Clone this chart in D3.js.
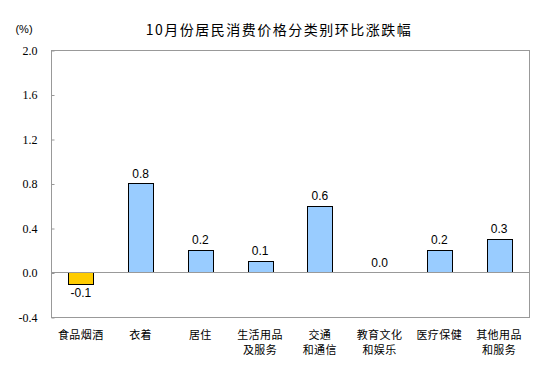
<!DOCTYPE html>
<html>
<head>
<meta charset="utf-8">
<script src="https://cdn.jsdelivr.net/npm/d3@7"></script>
<style>
body { margin:0; background:#fff; }
svg { display:block; }
</style>
</head>
<body>
<script>
// categories (two-line labels) and month-on-month change, %
var categories = [
  ["食品烟酒"], ["衣着"], ["居住"], ["生活用品", "及服务"],
  ["交通", "和通信"], ["教育文化", "和娱乐"], ["医疗保健"], ["其他用品", "和服务"]
];
var values = [-0.1, 0.8, 0.2, 0.1, 0.6, 0.0, 0.2, 0.3];
var yTicks = [-0.4, 0.0, 0.4, 0.8, 1.2, 1.6, 2.0];

var width = 552, height = 368;
// plot area (note: "top" is reserved on window)
var pLeft = 51, pRight = 529, pTop = 50, pBottom = 317;

// one decimal, plain hyphen for negatives like the original
var fmt = function(d) { return d3.format(".1f")(d).replace("\u2212", "-"); };

var svg = d3.select("body").append("svg")
  .attr("width", width)
  .attr("height", height);

var x = d3.scaleBand()
  .domain(d3.range(values.length))
  .range([pLeft, pRight])
  .paddingInner(0.58)
  .paddingOuter(0.29);

var y = d3.scaleLinear()
  .domain([-0.4, 2.0])
  .range([pBottom, pTop]);

// title
svg.append("text")
  .attr("x", 279)
  .attr("y", 35)
  .attr("text-anchor", "middle")
  .attr("font-family", "'Noto Sans CJK SC', sans-serif")
  .attr("font-size", "14px")
  .attr("letter-spacing", "1.5px")
  .attr("fill", "#000")
  .text("10月份居民消费价格分类别环比涨跌幅");

svg.append("text")
  .attr("x", 24)
  .attr("y", 33)
  .attr("text-anchor", "middle")
  .attr("font-family", "'Liberation Sans', Arial, sans-serif")
  .attr("font-size", "11px")
  .text("(%)");

// plot frame
svg.append("rect")
  .attr("x", pLeft + 0.5)
  .attr("y", pTop + 0.5)
  .attr("width", pRight - pLeft)
  .attr("height", pBottom - pTop)
  .attr("fill", "none")
  .attr("stroke", "#999")
  .attr("stroke-width", 1);

// y axis ticks inside, labels outside
var yAxis = d3.axisRight(y)
  .tickValues(yTicks)
  .tickSize(3)
  .tickFormat(fmt);

var gy = svg.append("g")
  .attr("transform", "translate(" + (pLeft + 0.5) + ",0.5)")
  .call(yAxis);
gy.select(".domain").remove();
gy.selectAll(".tick line").attr("stroke", "#999");
gy.selectAll(".tick text")
  .attr("x", -14)
  .attr("text-anchor", "end")
  .attr("font-family", "'Liberation Serif', 'Times New Roman', serif")
  .attr("font-size", "12px")
  .attr("fill", "#000");

// bars
svg.selectAll("rect.bar")
  .data(values)
  .enter().append("rect")
  .attr("class", "bar")
  .attr("x", function(d, i) { return Math.round(x(i)) + 0.5; })
  .attr("y", function(d) { return Math.round(y(Math.max(0, d))) + 0.5; })
  .attr("width", Math.round(x.bandwidth()))
  .attr("height", function(d) { return Math.abs(Math.round(y(d)) - Math.round(y(0))); })
  .attr("fill", function(d) { return d < 0 ? "#FFCC00" : "#99CCFF"; })
  .attr("stroke", "#000")
  .attr("stroke-width", 1)
  .style("display", function(d) { return d === 0 ? "none" : null; });

// zero line
svg.append("line")
  .attr("x1", pLeft)
  .attr("x2", pRight)
  .attr("y1", Math.round(y(0)) + 0.5)
  .attr("y2", Math.round(y(0)) + 0.5)
  .attr("stroke", "#999");

// value labels
svg.selectAll("text.val")
  .data(values)
  .enter().append("text")
  .attr("class", "val")
  .attr("x", function(d, i) { return x(i) + x.bandwidth() / 2; })
  .attr("y", function(d) { return d < 0 ? y(d) + 13 : y(d) - 6; })
  .attr("text-anchor", "middle")
  .attr("font-family", "'Liberation Sans', Arial, sans-serif")
  .attr("font-size", "12px")
  .attr("fill", "#000")
  .text(fmt);

// category labels
var cat = svg.selectAll("text.cat")
  .data(categories)
  .enter().append("text")
  .attr("class", "cat")
  .attr("text-anchor", "middle")
  .attr("font-family", "'Noto Sans CJK SC', sans-serif")
  .attr("font-size", "11px")
  .attr("letter-spacing", "0.5px")
  .attr("fill", "#000");

cat.selectAll("tspan")
  .data(function(d, i) { return d.map(function(s) { return { s: s, i: i }; }); })
  .enter().append("tspan")
  .attr("x", function(d) { return x(d.i) + x.bandwidth() / 2; })
  .attr("y", function(d, j) { return 339 + j * 15; })
  .text(function(d) { return d.s; });
</script>
</body>
</html>
